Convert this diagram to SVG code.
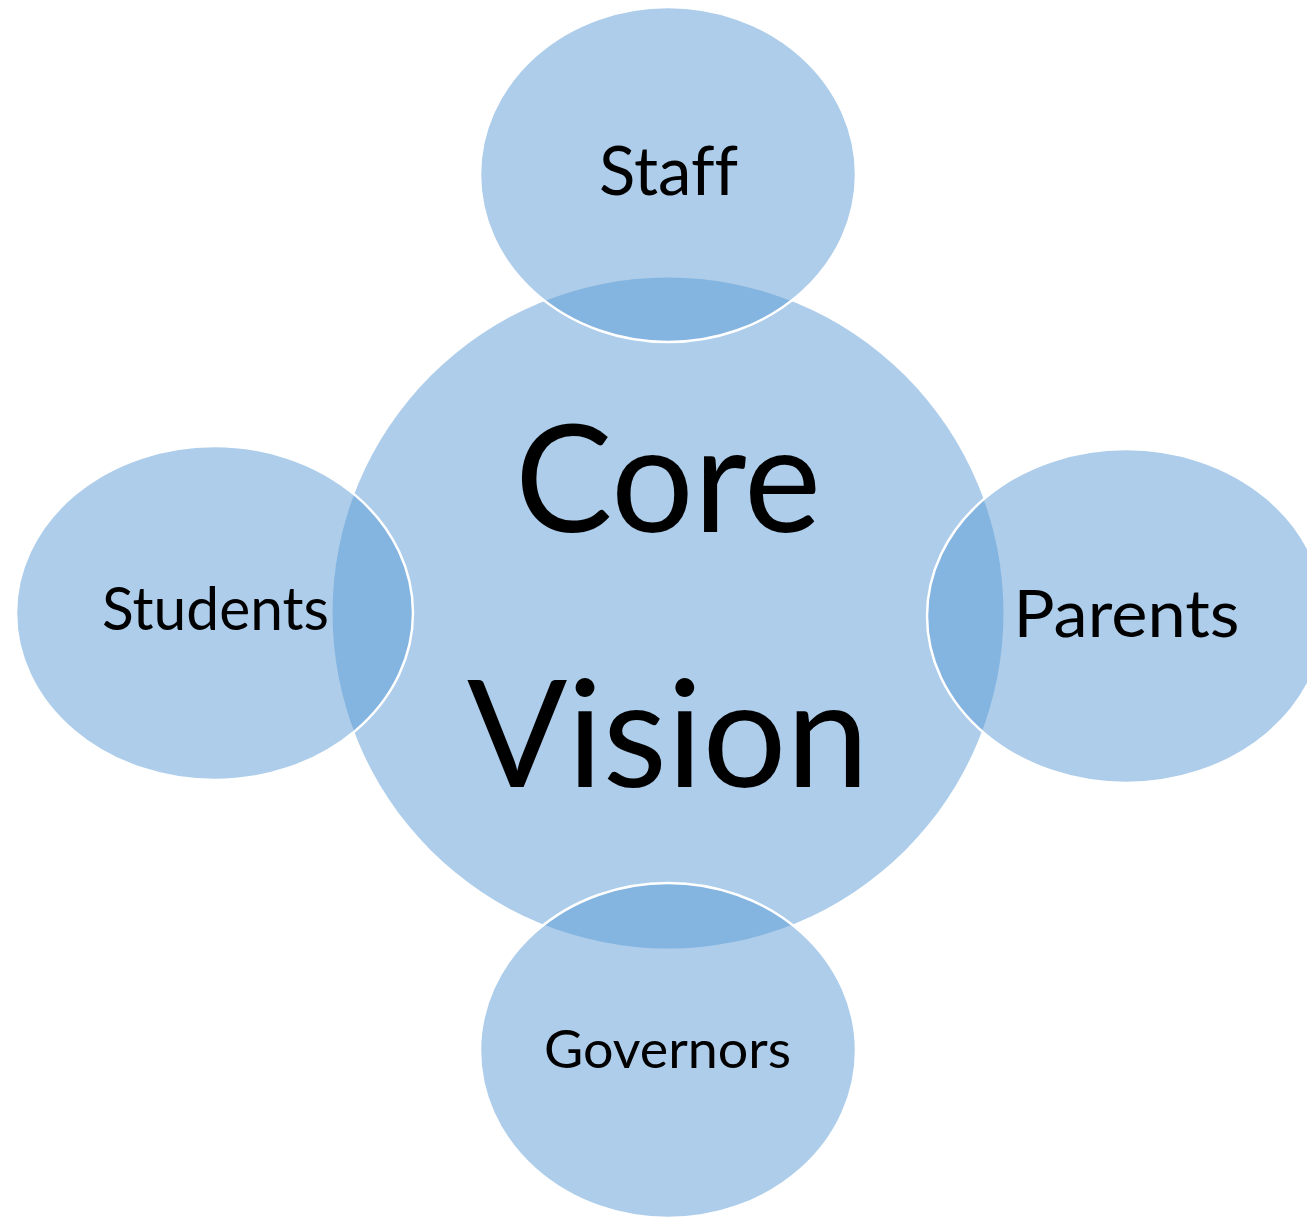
<svg xmlns="http://www.w3.org/2000/svg" width="1307" height="1217" viewBox="0 0 1307 1217">
  <style>
    .shape { fill: #5B9BD5; fill-opacity: 0.5; }
    .sat { stroke: #ffffff; stroke-width: 2.5; }
    .lbl { font-family: Lato, "Open Sans", "Liberation Sans", sans-serif; fill: #000000; text-anchor: middle; font-variant-ligatures: none; }
  </style>
  <rect width="1307" height="1217" fill="#ffffff"/>
  <g id="core">
    <circle class="shape" cx="668" cy="613" r="335.5"/>
    <text class="lbl" x="668" y="532" font-size="149" textLength="306" lengthAdjust="spacingAndGlyphs">Core</text>
    <text class="lbl" x="668" y="787" font-size="149" textLength="402" lengthAdjust="spacingAndGlyphs">Vision</text>
  </g>
  <g id="connectors"></g>
  <g id="staff">
    <ellipse class="shape sat" cx="668" cy="174.5" rx="188" ry="167.5"/>
    <text class="lbl" x="668.5" y="195" font-size="67" textLength="139" lengthAdjust="spacingAndGlyphs">Staff</text>
  </g>
  <g id="students">
    <ellipse class="shape sat" cx="214.5" cy="613" rx="198.5" ry="167"/>
    <text class="lbl" x="215.5" y="630" font-size="60" textLength="227" lengthAdjust="spacingAndGlyphs">Students</text>
  </g>
  <g id="parents">
    <ellipse class="shape sat" cx="1126" cy="616" rx="199" ry="167"/>
    <text class="lbl" x="1126.5" y="637" font-size="65" textLength="226" lengthAdjust="spacingAndGlyphs">Parents</text>
  </g>
  <g id="governors">
    <ellipse class="shape sat" cx="668" cy="1050.5" rx="188" ry="167.5"/>
    <text class="lbl" x="667.5" y="1068" font-size="53" textLength="247" lengthAdjust="spacingAndGlyphs">Governors</text>
  </g>
</svg>
